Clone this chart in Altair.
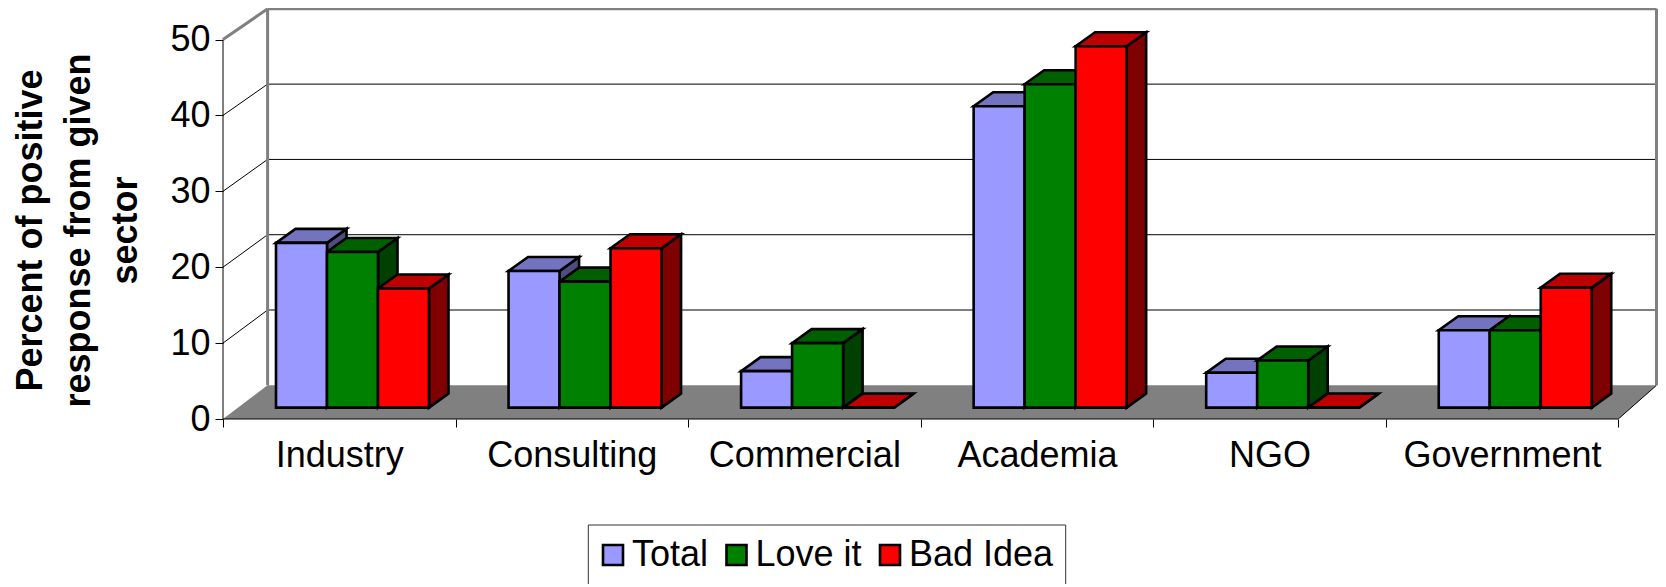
import altair as alt
import pandas as pd

categories = ["Industry", "Consulting", "Commercial", "Academia", "NGO", "Government"]
series = ["Total", "Love it", "Bad Idea"]
total = [21.7, 18.0, 4.8, 39.7, 4.6, 10.2]
love_it = [20.5, 16.6, 8.5, 42.6, 6.2, 10.2]
bad_idea = [15.7, 21.0, 0, 47.6, 0, 15.8]
y_ticks = [0, 10, 20, 30, 40, 50]
y_title = ["Percent of positive", "response from given", "sector"]
front_colors = ["#9999FF", "#008000", "#FF0000"]
top_colors = ["#7373BF", "#006000", "#BF0000"]
side_colors = ["#4D4D80", "#004000", "#7F0000"]

FONT = "Liberation Sans"
W, H = 1435, 411
PX_X = 232.55   # pixels per category
PX_Y = 7.59     # pixels per percent
X_MAX = W / PX_X
Y_MAX = H / PX_Y

# Depth of the pseudo-3D box, in data units
BACK_X = 44.6 / PX_X
def back_y(v):
    return 4.44 + 0.992 * v

# Bar geometry, in data units
BAR_START = 53.0 / PX_X
BAR_W = 51.0 / PX_X
BAR_DX = 19.5 / PX_X
BAR_DY = 14.0 / PX_Y
BAR_BASE = 11.4 / PX_Y

fronts, tops, sides = [], [], []
values = [total, love_it, bad_idea]
for c, cat in enumerate(categories):
    for s, name in enumerate(series):
        v = values[s][c]
        x0 = c + BAR_START + s * BAR_W
        x1 = x0 + BAR_W
        y0 = BAR_BASE
        y1 = BAR_BASE + v
        bid = f"{cat}-{name}"
        fronts.append(dict(series=name, x=x0, x2=x1, y=y0, y2=y1))
        tops.append(dict(id=bid, c=top_colors[s], y=y1, x=x0, x2=x1))
        tops.append(dict(id=bid, c=top_colors[s], y=y1 + BAR_DY, x=x0 + BAR_DX, x2=x1 + BAR_DX))
        sides.append(dict(id=bid, c=side_colors[s], x=x1, y=y0, y2=y1))
        sides.append(dict(id=bid, c=side_colors[s], x=x1 + BAR_DX, y=y0 + BAR_DY, y2=y1 + BAR_DY))

n = len(categories)
RIGHT = min(n + BACK_X, X_MAX - 1.5 / PX_X)
thin, thick = [], []
for v in y_ticks:
    if v == 50:
        thick += [dict(g="d50", x=0, y=50), dict(g="d50", x=BACK_X, y=back_y(50))]
        thick += [dict(g="top", x=BACK_X, y=back_y(50)), dict(g="top", x=RIGHT, y=back_y(50))]
    elif v > 0:
        thin += [dict(g=f"d{v}", x=0, y=v), dict(g=f"d{v}", x=BACK_X, y=back_y(v))]
        thin += [dict(g=f"b{v}", x=BACK_X, y=back_y(v)), dict(g=f"b{v}", x=RIGHT, y=back_y(v))]
thick += [dict(g="left", x=BACK_X, y=back_y(0)), dict(g="left", x=BACK_X, y=back_y(50))]
thick += [dict(g="right", x=RIGHT, y=back_y(0)), dict(g="right", x=RIGHT, y=back_y(50))]
thin += [dict(g="rd", x=n, y=0), dict(g="rd", x=RIGHT, y=back_y(0))]
thin += [dict(g="ax", x=0, y=0), dict(g="ax", x=n, y=0)]
thin += [dict(g="ay", x=0, y=0), dict(g="ay", x=0, y=50)]
floor = [dict(y=0, x=0, x2=n), dict(y=back_y(0), x=BACK_X, x2=RIGHT)]

xs = alt.Scale(domain=[0, X_MAX], nice=False, zero=False)
ys = alt.Scale(domain=[0, Y_MAX], nice=False, zero=False)

cat_js = "[" + ",".join(f"'{c}'" for c in categories) + "]"
x_axis = alt.Axis(
    values=[i / 2 for i in range(2 * n + 1)],
    labelExpr=f"datum.value % 1 === 0.5 ? {cat_js}[floor(datum.value)] : ''",
    tickOpacity=alt.condition("datum.value % 1 === 0", alt.value(1), alt.value(0)),
    domain=False, grid=False, title=None, tickColor="black", tickSize=8, tickWidth=1,
    labelFont=FONT, labelFontSize=36, labelColor="black", labelPadding=11, labelLimit=400,
    labelOverlap=False, labelBound=False, labelFlush=False, labelAngle=0,
)
y_axis = alt.Axis(
    values=y_ticks, domain=False, grid=False, title=y_title, tickColor="black", tickSize=8, tickWidth=1,
    labelFont=FONT, labelFontSize=36, labelColor="black", labelPadding=5, labelLimit=400,
    labelOverlap=False, labelBound=False, labelFlush=False,
    titleFont=FONT, titleFontSize=36, titleFontWeight="bold", titleColor="black", titleLimit=600,
    titleAngle=-90, titleLineHeight=47.5, titleX=-181.3, titleY=222, titleAlign="center", titleBaseline="alphabetic",
)
X = lambda: alt.X("x:Q", scale=xs, axis=x_axis)
Y = lambda: alt.Y("y:Q", scale=ys, axis=y_axis)

floor_l = alt.Chart(pd.DataFrame(floor)).mark_area(orient="horizontal", color="#808080").encode(
    y=Y(), x=X(), x2="x2:Q")
thick_l = alt.Chart(pd.DataFrame(thick)).mark_line(color="#808080", strokeWidth=3).encode(
    x=X(), y=Y(), detail="g:N")
thin_l = alt.Chart(pd.DataFrame(thin)).mark_line(color="#000000", strokeWidth=1).encode(
    x=X(), y=Y(), detail="g:N")
side_l = alt.Chart(pd.DataFrame(sides)).mark_area(stroke="black", strokeWidth=2.6).encode(
    x=X(), y=Y(), y2="y2:Q", detail="id:N", fill=alt.Fill("c:N", scale=None))
top_l = alt.Chart(pd.DataFrame(tops)).mark_area(orient="horizontal", stroke="black", strokeWidth=2.6).encode(
    y=Y(), x=X(), x2="x2:Q", detail="id:N", fill=alt.Fill("c:N", scale=None))
front_l = alt.Chart(pd.DataFrame(fronts)).mark_rect(stroke="black", strokeWidth=2.6).encode(
    x=X(), x2="x2:Q", y=Y(), y2="y2:Q",
    color=alt.Color("series:N", scale=alt.Scale(domain=series, range=front_colors), sort=series,
        legend=alt.Legend(
            title=None, orient="none", direction="horizontal", legendX=372, legendY=529,
            symbolType="square", symbolSize=400, symbolStrokeColor="black", symbolStrokeWidth=2.6,
            symbolOpacity=1, labelFont=FONT, labelFontSize=36, labelColor="black", labelLimit=400,
            labelOffset=1, columnPadding=9.5, padding=0)),
)

box_color = "#333333"
box_top = alt.Chart(pd.DataFrame({"a": [0]})).mark_rule(color=box_color, strokeWidth=1).encode(
    x=alt.value(365.3), x2=alt.value(842.7), y=alt.value(517))
box_left = alt.Chart(pd.DataFrame({"a": [0]})).mark_rule(color=box_color, strokeWidth=1).encode(
    x=alt.value(365.3), y=alt.value(517), y2=alt.value(600))
box_right = alt.Chart(pd.DataFrame({"a": [0]})).mark_rule(color=box_color, strokeWidth=1).encode(
    x=alt.value(842.7), y=alt.value(517), y2=alt.value(600))

chart = alt.layer(floor_l, thin_l, thick_l, side_l, top_l, front_l, box_top, box_left, box_right).properties(
    width=W, height=H,
    autosize=alt.AutoSizeParams(type="none"),
    padding={"left": 215, "top": 0, "right": 0, "bottom": 165},
    background="white",
).configure_view(stroke=None)

chart.save("out.html", embed_options={"renderer": "svg", "actions": False})
